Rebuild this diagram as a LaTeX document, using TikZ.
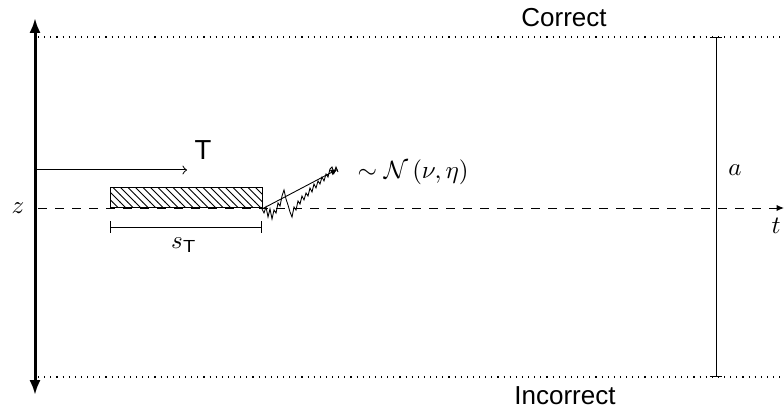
\documentclass[tikz,border=0pt]{standalone}
\usepackage{fontspec}
\newfontfamily\lsans{Liberation Sans}
\usetikzlibrary{arrows.meta,patterns}
\begin{document}
\begin{tikzpicture}[x=0.4pt,y=-0.4pt,
  lab/.style={inner sep=0pt,font=\lsans},
  mlab/.style={inner sep=0pt},
  bound/.style={dotted,line width=0.45pt},
  axis/.style={line width=1.2pt,{Latex[length=6pt,width=4.5pt]}-{Latex[length=6pt,width=4.5pt]}},
  mid/.style={dash pattern=on 3.4pt off 3.4pt}]
\useasboundingbox (0,0) rectangle (784,412);
% coordinates
\coordinate (ztop) at (35,18);
\coordinate (zbot) at (35,395);
\coordinate (cl) at (38,37);
\coordinate (cr) at (784,37);
\coordinate (il) at (38,377);
\coordinate (ir) at (784,377);
\coordinate (ml) at (38,208);
\coordinate (mr) at (784,208);
\coordinate (at) at (716,37);
\coordinate (ab) at (716,377);
\coordinate (Ts) at (35,170);
\coordinate (Te) at (187,170);
\coordinate (sl) at (110,227);
\coordinate (sr) at (262,227);
\coordinate (ws) at (262,209);
\coordinate (we) at (338,169);
% axis and boundaries
\draw[axis] (zbot) -- (ztop);
\draw[bound] (cl) -- (cr);
\draw[bound] (il) -- (ir);
\draw[mid,-{Latex[length=3pt,width=2.5pt]}] (ml) -- (mr);
\draw[|-|] (at) -- (ab);
% labels
\node[lab,font=\lsans\fontsize{10.4}{12}\selectfont] (correct) at (564,18) {Correct};
\node[lab,font=\lsans\fontsize{10.4}{12}\selectfont] (incorrect) at (565,396) {Incorrect};
\node[mlab] (zl) at (18,208) {$z$};
\node[mlab] (tl) at (776,226) {$t$};
\node[mlab] (al) at (735,170) {$a$};
% T arrow
\draw[-to] (Ts) -- (Te);
\node[lab,font=\lsans\fontsize{11}{13}\selectfont] (Tl) at (203,150) {T};
% hatched rectangle
\node[draw,pattern=north west lines,minimum width=60.8pt,minimum height=7.6pt,inner sep=0pt,anchor=south west] (rect) at (110,207.5) {};
% s_T bar
\draw[|-|] (sl) -- (sr);
\node[mlab] (sTl) at (184,245) {$s_{\mathsf{T}}$};
% random walk
\draw[line width=0.35pt] (ws) -- (264,213) -- (266,207) -- (268,217) -- (270,209) -- (272,219) -- (274,210) -- (276,213) -- (278,203) -- (280,206) -- (282,196) -- (284,190) -- (286,199) -- (288,205) -- (290,212) -- (292,217) -- (294,207) -- (296,210) -- (298,201) -- (300,204) -- (302,196) -- (304,200) -- (306,193) -- (308,196) -- (310,188) -- (312,192) -- (314,184) -- (316,188) -- (318,181) -- (320,184) -- (322,177) -- (324,181) -- (326,174) -- (328,177) -- (330,169) -- (332,167) -- (334,173) -- (336,167) -- (338,172);
\draw[-{Latex[length=3pt,width=2.5pt]},line width=0.35pt] (ws) -- (we);
\node[mlab,anchor=west] (nl) at (357,172) {$\sim\mathcal{N}\left(\nu,\eta\right)$};
\end{tikzpicture}
\end{document}
